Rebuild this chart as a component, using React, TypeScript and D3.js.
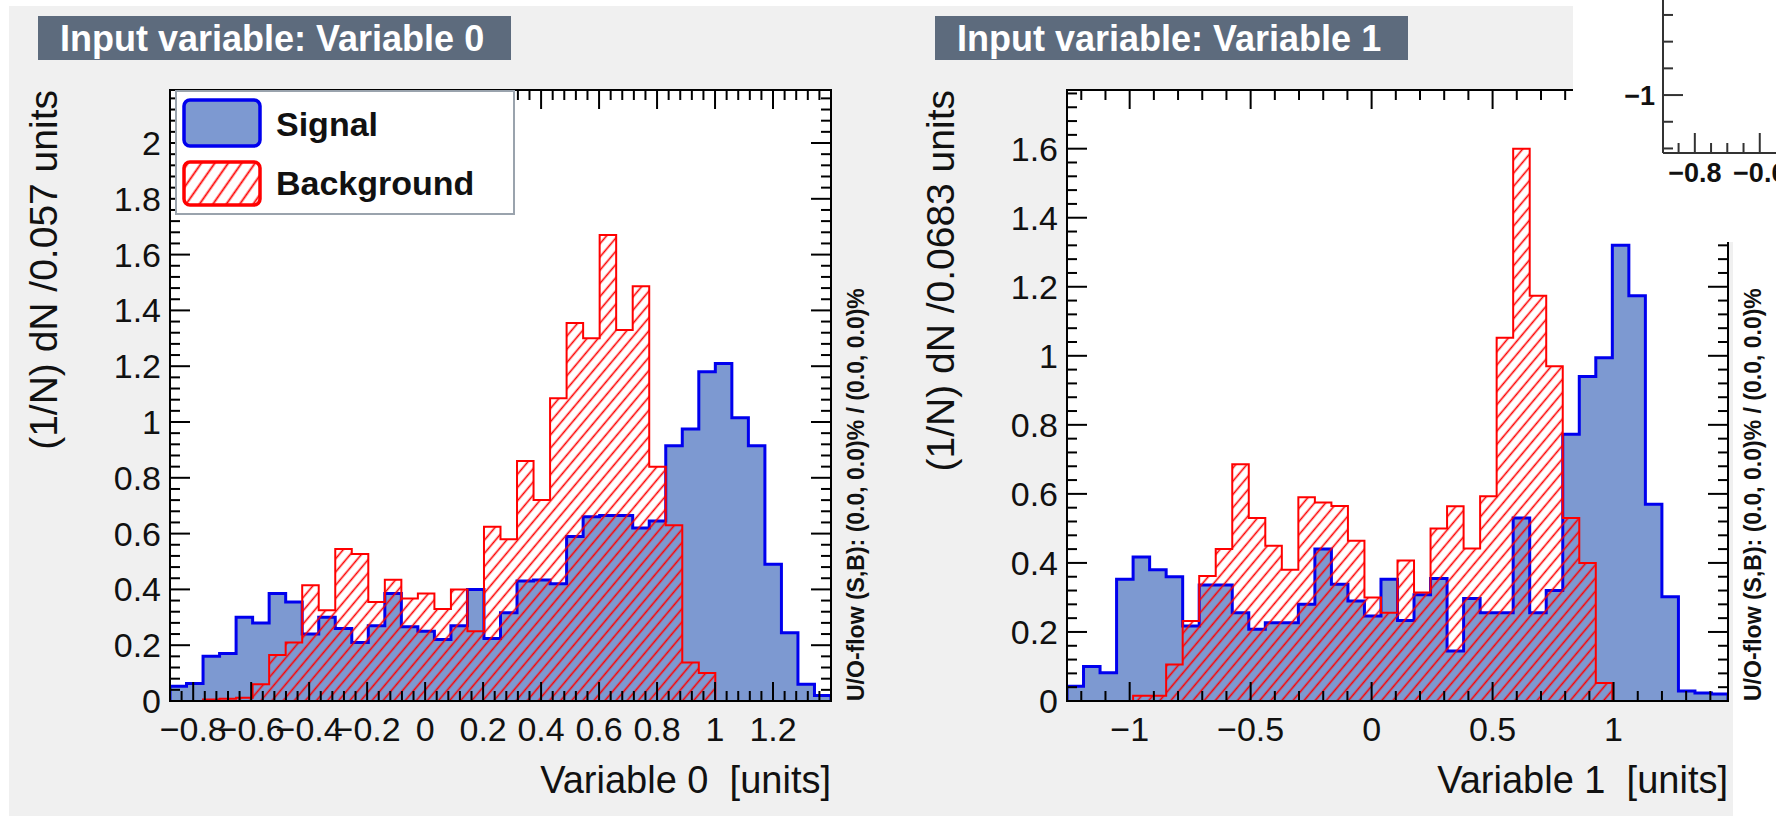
import React from "react";
import * as d3 from "d3";

const W = 1776;
const H = 824;
const FONT = "'Liberation Sans', Arial, Helvetica, sans-serif";

// 40 bins per variable, normalised (1/N) dN
const var0Range = [-0.88, 1.4];
const var0Signal = [
  0.053, 0.063, 0.16, 0.17, 0.3, 0.28, 0.385, 0.355, 0.24, 0.3,
  0.26, 0.21, 0.27, 0.385, 0.266, 0.25, 0.22, 0.27, 0.4, 0.224,
  0.316, 0.43, 0.434, 0.42, 0.59, 0.66, 0.665, 0.665, 0.62, 0.645,
  0.915, 0.975, 1.18, 1.21, 1.015, 0.915, 0.49, 0.245, 0.06, 0.02,
];
const var0Background = [
  0, 0, 0.005, 0.008, 0.012, 0.06, 0.165, 0.21, 0.415, 0.325,
  0.545, 0.527, 0.355, 0.435, 0.367, 0.385, 0.33, 0.4, 0.25, 0.625,
  0.58, 0.86, 0.72, 1.085, 1.355, 1.3, 1.67, 1.33, 1.487, 0.84,
  0.63, 0.138, 0.1, 0, 0, 0, 0, 0, 0, 0,
];

const var1Range = [-1.259, 1.473];
const var1Signal = [
  0.043, 0.1, 0.082, 0.353, 0.417, 0.38, 0.36, 0.217, 0.336, 0.336,
  0.256, 0.208, 0.227, 0.227, 0.28, 0.44, 0.338, 0.29, 0.246, 0.353,
  0.233, 0.308, 0.355, 0.145, 0.297, 0.256, 0.256, 0.53, 0.256, 0.32,
  0.773, 0.94, 0.994, 1.32, 1.174, 0.57, 0.302, 0.029, 0.023, 0.02,
];
const var1Background = [
  0, 0, 0, 0, 0.015, 0.015, 0.106, 0.232, 0.362, 0.44,
  0.686, 0.53, 0.45, 0.38, 0.59, 0.575, 0.565, 0.464, 0.3, 0.256,
  0.407, 0.314, 0.5, 0.564, 0.442, 0.593, 1.052, 1.6, 1.174, 0.97,
  0.53, 0.4, 0.052, 0, 0, 0, 0, 0, 0, 0,
];

const var0XTicks = [-0.8, -0.6, -0.4, -0.2, 0, 0.2, 0.4, 0.6, 0.8, 1, 1.2];
const var0YTicks = [0, 0.2, 0.4, 0.6, 0.8, 1, 1.2, 1.4, 1.6, 1.8, 2];
const var1XTicks = [-1, -0.5, 0, 0.5, 1];
const var1YTicks = [0, 0.2, 0.4, 0.6, 0.8, 1, 1.2, 1.4, 1.6];

// bits of the third window peeking in at the top right
const thirdXTicks = [-0.8, -0.6];
const thirdYTicks = [-1];

const legendEntries = ["Signal", "Background"];
const uoText = "U/O-flow (S,B): (0.0, 0.0)% / (0.0, 0.0)%";

const FW = 661;
const FT = 90;
const FB = 701;
const MAJ = 19;
const MIN = 10;

const fmt = (v: number) => String(Math.round(v * 100) / 100).replace("-", "\u2212");

function minorTicks(domain: number[], step: number) {
  const k0 = Math.ceil(domain[0] / step - 1e-9);
  const k1 = Math.floor(domain[1] / step + 1e-9);
  return d3.range(k0, k1 + 1).map((k) => ({ v: k * step, major: k % 5 === 0 }));
}

function Panel(props: any) {
  const { x0, title, xTitle, yTitle, range, sig, bkg, yMax, xTicks, xStep, yTicks, legend } = props;
  const x = d3.scaleLinear().domain(range).range([x0, x0 + FW]);
  const y = d3.scaleLinear().domain([0, yMax]).range([FB, FT]);
  const n = sig.length;
  const bw = (range[1] - range[0]) / n;
  const edges = d3.range(n + 1).map((i) => range[0] + i * bw);

  const steps = (vals: number[]) => {
    const pts: [number, number][] = [[edges[0], 0]];
    vals.forEach((v, i) => {
      pts.push([edges[i], v]);
      pts.push([edges[i + 1], v]);
    });
    pts.push([edges[n], 0]);
    return pts;
  };
  const line = d3.line<[number, number]>().x((d) => x(d[0])).y((d) => y(d[1]));
  const sigPath = line(steps(sig)) as string;
  const bkgPath = line(steps(bkg)) as string;

  const xt = minorTicks(range, xStep);
  const yt = minorTicks([0, yMax], 0.04);
  const clipId = `clip${x0}`;

  return (
    <g>
      <rect x={x0 - 132} y={16} width={473} height={44} fill="#5d6b7d" />
      <text x={x0 - 110} y={51} fill="#ffffff" fontSize={36} fontWeight="bold" fontFamily={FONT}>
        {title}
      </text>

      <rect x={x0} y={FT} width={FW} height={FB - FT} fill="#ffffff" />
      <clipPath id={clipId}>
        <rect x={x0} y={FT} width={FW} height={FB - FT} />
      </clipPath>
      <g clipPath={`url(#${clipId})`}>
        <path d={sigPath + "Z"} fill="#7d99d1" stroke="none" />
        <path d={sigPath} fill="none" stroke="#0000ee" strokeWidth={3} />
        <path d={bkgPath + "Z"} fill="url(#hatch)" stroke="none" />
        <path d={bkgPath} fill="none" stroke="#ff0000" strokeWidth={2} />
      </g>

      {/* ticks on all four sides */}
      {xt.map((t, i) => {
        const len = t.major ? MAJ : MIN;
        return (
          <g key={"xt" + i} stroke="#000" strokeWidth={2}>
            <line x1={x(t.v)} x2={x(t.v)} y1={FB} y2={FB - len} />
            <line x1={x(t.v)} x2={x(t.v)} y1={FT} y2={FT + len} />
          </g>
        );
      })}
      {yt.map((t, i) => {
        const len = t.major ? MAJ + 1 : MIN;
        return (
          <g key={"yt" + i} stroke="#000" strokeWidth={2}>
            <line x1={x0} x2={x0 + len} y1={y(t.v)} y2={y(t.v)} />
            <line x1={x0 + FW} x2={x0 + FW - len} y1={y(t.v)} y2={y(t.v)} />
          </g>
        );
      })}
      <rect x={x0} y={FT} width={FW} height={FB - FT} fill="none" stroke="#000" strokeWidth={2} />

      {xTicks.map((v: number) => (
        <text key={"xl" + v} x={x(v)} y={741} textAnchor="middle" fontSize={34} fontFamily={FONT} fill="#111">
          {fmt(v)}
        </text>
      ))}
      {yTicks.map((v: number) => (
        <text key={"yl" + v} x={x0 - 9} y={y(v) + 12} textAnchor="end" fontSize={34} fontFamily={FONT} fill="#111">
          {fmt(v)}
        </text>
      ))}

      <text x={x0 + FW} y={793} textAnchor="end" fontSize={38} fontFamily={FONT} fill="#111" style={{ whiteSpace: "pre" }}>
        {xTitle}
      </text>
      <text
        transform={`translate(${x0 - 113},${FT}) rotate(-90)`}
        textAnchor="end"
        fontSize={39}
        fontFamily={FONT}
        fill="#111"
      >
        {yTitle}
      </text>
      <text
        transform={`translate(${x0 + FW + 33},${FB}) rotate(-90)`}
        textAnchor="start"
        fontSize={23}
        fontWeight="bold"
        fontFamily={FONT}
        fill="#111"
      >
        {uoText}
      </text>

      {legend && (
        <g>
          <rect x={x0 + 6} y={FT + 1} width={338} height={123} fill="#ffffff" stroke="#9aa3ad" strokeWidth={2} />
          <rect x={x0 + 14} y={FT + 10} width={76} height={46} rx={6} fill="#7d99d1" stroke="#0000ee" strokeWidth={3.5} />
          <rect x={x0 + 14} y={FT + 72} width={76} height={43} rx={6} fill="url(#hatchLegend)" stroke="#ff0000" strokeWidth={3.5} />
          {legendEntries.map((name, i) => (
            <text key={name} x={x0 + 106} y={FT + 46 + i * 59} fontSize={34} fontWeight="bold" fontFamily={FONT} fill="#111">
              {name}
            </text>
          ))}
        </g>
      )}
    </g>
  );
}

function ThirdCorner() {
  const ax = 1663;
  const ay = 153;
  const x = d3.scaleLinear().domain([-0.898, -0.55]).range([ax, ax + 113]);
  const y = d3.scaleLinear().domain([-1.217, -0.644]).range([ay, 0]);
  const xt = d3.range(-0.85, -0.55, 0.05).map((v) => ({ v, major: Math.abs((v * 100) % 20) < 1 }));
  const yt = d3.range(-1.2, -0.6, 0.1).map((v) => ({ v, major: Math.abs(v + 1) < 1e-6 }));
  return (
    <g>
      <rect x={1573} y={0} width={W - 1573} height={242} fill="#ffffff" />
      {xt.map((t, i) => (
        <line key={"cx" + i} x1={x(t.v)} x2={x(t.v)} y1={ay} y2={ay - (t.major ? 20 : 10)} stroke="#333" strokeWidth={2} />
      ))}
      {yt.map((t, i) => (
        <line key={"cy" + i} x1={ax} x2={ax + (t.major ? 20 : 10)} y1={y(t.v)} y2={y(t.v)} stroke="#333" strokeWidth={2} />
      ))}
      <line x1={ax} x2={ax} y1={0} y2={ay} stroke="#333" strokeWidth={2} />
      <line x1={ax} x2={W} y1={ay} y2={ay} stroke="#333" strokeWidth={2} />
      {thirdYTicks.map((v) => (
        <text key={"cyl" + v} x={ax - 8} y={y(v) + 10} textAnchor="end" fontSize={27} fontWeight="bold" fontFamily={FONT} fill="#111">
          {fmt(v)}
        </text>
      ))}
      {thirdXTicks.map((v) => (
        <text key={"cxl" + v} x={x(v)} y={182} textAnchor="middle" fontSize={27} fontWeight="bold" fontFamily={FONT} fill="#111">
          {fmt(v)}
        </text>
      ))}
    </g>
  );
}

export default function App() {
  return (
    <svg width={W} height={H} style={{ position: "absolute", left: 0, top: 0, display: "block" }}>
      <defs>
        <pattern id="hatch" patternUnits="userSpaceOnUse" width={8.5} height={8.5} patternTransform="rotate(40)">
          <line x1={4.25} y1={0} x2={4.25} y2={8.5} stroke="#ff0000" strokeWidth={1.6} />
        </pattern>
        <pattern id="hatchLegend" patternUnits="userSpaceOnUse" width={11} height={11} patternTransform="rotate(35)">
          <line x1={5.5} y1={0} x2={5.5} y2={11} stroke="#ff0000" strokeWidth={1.8} />
        </pattern>
      </defs>
      <rect x={0} y={0} width={W} height={H} fill="#ffffff" />
      <rect x={9} y={6} width={W - 9} height={810} fill="#f0f0f0" />
      <rect x={1733} y={242} width={W - 1733} height={H - 242} fill="#ffffff" />
      <Panel
        x0={170}
        title="Input variable: Variable 0"
        xTitle={"Variable 0  [units]"}
        yTitle="(1/N) dN /0.057 units"
        range={var0Range}
        sig={var0Signal}
        bkg={var0Background}
        yMax={2.19}
        xTicks={var0XTicks}
        xStep={0.04}
        yTicks={var0YTicks}
        legend
      />
      <Panel
        x0={1067}
        title="Input variable: Variable 1"
        xTitle={"Variable 1  [units]"}
        yTitle="(1/N) dN /0.0683 units"
        range={var1Range}
        sig={var1Signal}
        bkg={var1Background}
        yMax={1.77}
        xTicks={var1XTicks}
        xStep={0.1}
        yTicks={var1YTicks}
      />
      <ThirdCorner />
    </svg>
  );
}
